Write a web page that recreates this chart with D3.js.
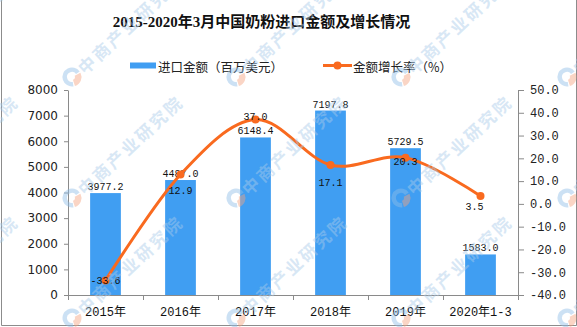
<!DOCTYPE html>
<html><head><meta charset="utf-8">
<script src="https://cdn.jsdelivr.net/npm/d3@7"></script>
<style>html,body{margin:0;padding:0;background:#fff;}svg{display:block;}</style>
</head><body>
<svg id="chart" width="577" height="327"></svg>
<script>
const titleText = "2015-2020年3月中国奶粉进口金额及增长情况";
const categories = ["2015年", "2016年", "2017年", "2018年", "2019年", "2020年1-3"];
const amounts = [3977.2, 4487.0, 6148.4, 7197.8, 5729.5, 1583.0];
const growth = [-33.6, 12.9, 37.0, 17.1, 20.3, 3.5];
const leftTicks = [0, 1000, 2000, 3000, 4000, 5000, 6000, 7000, 8000];
const rightTicks = [-40, -30, -20, -10, 0, 10, 20, 30, 40, 50];
const legendNames = ["进口金额（百万美元）", "金额增长率（%）"];
const watermarkText = "中商产业研究院";

// layout (not data)
const growthLabelDy = [0, 15, -3.5, 17.5, 3.5, 10];
const growthLabelDx = [0, 0, 0, 0, 0, -6];
const wmX = [-93, 72, 236, 401, 567];
const wmY = [77, 198, 318];

const barColor = "#409ef2", lineColor = "#f96a1f", axisColor = "#8a8a8a";
const svg = d3.select("#chart");
const L = 68, R = 518, T = 90, B = 295;

const x = d3.scaleBand().domain(categories).range([L, R]).padding(0);
const y0 = d3.scaleLinear().domain([0, 8000]).range([B, T]);
const y1 = d3.scaleLinear().domain([-40, 50]).range([B, T]);
const bw = x.bandwidth() * 0.41;

// border
svg.append("g").attr("stroke", "#8c8c8c").attr("stroke-width", 1)
  .call(g => {
    g.append("line").attr("x1", 1.5).attr("x2", 1.5).attr("y1", 0).attr("y2", 325.5);
    g.append("line").attr("x1", 576.5).attr("x2", 576.5).attr("y1", 0).attr("y2", 325.5);
    g.append("line").attr("x1", 1.5).attr("x2", 576.5).attr("y1", 325.5).attr("y2", 325.5);
  });

// title
svg.append("text").attr("x", 261.5).attr("y", 27)
  .attr("text-anchor", "middle")
  .style("font-family", "'Liberation Serif','Noto Sans CJK SC',serif")
  .style("font-weight", "bold").style("font-size", "15px").attr("fill", "#111")
  .text(titleText);

// legend
const lg = svg.append("g").style("font-family", "'Noto Sans CJK SC',sans-serif").style("font-size", "12.5px");
lg.append("rect").attr("x", 130).attr("y", 62.5).attr("width", 26).attr("height", 6).attr("fill", barColor);
lg.append("text").attr("x", 158).attr("y", 66).attr("dominant-baseline", "central").attr("fill", "#222").text(legendNames[0]);
lg.append("line").attr("x1", 323).attr("x2", 352).attr("y1", 65.5).attr("y2", 65.5).attr("stroke", lineColor).attr("stroke-width", 3);
lg.append("circle").attr("cx", 337.5).attr("cy", 65.5).attr("r", 4).attr("fill", lineColor);
lg.append("text").attr("x", 353).attr("y", 66).attr("dominant-baseline", "central").attr("fill", "#222").text(legendNames[1]);

// bars
svg.append("g").selectAll("rect").data(amounts).join("rect")
  .attr("x", (d, i) => x(categories[i]) + x.bandwidth() / 2 - bw / 2)
  .attr("width", bw)
  .attr("y", d => y0(d))
  .attr("height", d => y0(0) - y0(d))
  .attr("fill", barColor);

// left axis
const la = svg.append("g").attr("transform", `translate(${L},0)`)
  .call(d3.axisLeft(y0).tickValues(leftTicks).tickSize(4).tickSizeOuter(0).tickPadding(6).tickFormat(d3.format("d")));
la.select(".domain").attr("stroke", axisColor);
la.selectAll(".tick line").attr("stroke", axisColor);
la.selectAll(".tick text").style("font-family", "'DejaVu Sans',sans-serif").style("font-size", "12px").attr("fill", "#222");

// right axis
const ra = svg.append("g").attr("transform", `translate(${R},0)`)
  .call(d3.axisRight(y1).tickValues(rightTicks).tickSize(6).tickSizeOuter(0).tickPadding(6).tickFormat(d => d.toFixed(1)));
ra.select(".domain").attr("stroke", axisColor);
ra.selectAll(".tick line").attr("stroke", axisColor);
ra.selectAll(".tick text").style("font-family", "'Liberation Mono',monospace").style("font-size", "12px").attr("fill", "#222");

// bottom axis
const ba = svg.append("g");
ba.append("line").attr("x1", L).attr("x2", R).attr("y1", B + 0.5).attr("y2", B + 0.5).attr("stroke", axisColor);
const bounds = categories.map(c => x(c)).concat([x.range()[1]]);
ba.selectAll("line.tk").data(bounds).join("line").attr("class", "tk")
  .attr("x1", d => Math.round(d) + 0.5).attr("x2", d => Math.round(d) + 0.5)
  .attr("y1", B).attr("y2", B + 5).attr("stroke", axisColor);
ba.selectAll("text").data(categories).join("text")
  .attr("x", d => x(d) + x.bandwidth() / 2).attr("y", 316)
  .attr("text-anchor", "middle")
  .style("font-family", "'Liberation Mono','Noto Sans CJK SC',monospace").style("font-size", "12px").attr("fill", "#111")
  .text(d => d);

// bar labels
svg.append("g").selectAll("text").data(amounts).join("text")
  .attr("x", (d, i) => x(categories[i]) + x.bandwidth() / 2)
  .attr("y", d => y0(d) - 3)
  .attr("text-anchor", "middle")
  .style("font-family", "'Liberation Mono',monospace").style("font-size", "10px").attr("fill", "#111")
  .text(d => d.toFixed(1));

// line
const pts = growth.map((d, i) => [x(categories[i]) + x.bandwidth() / 2, y1(d)]);
svg.append("path").attr("d", d3.line().curve(d3.curveCardinal.tension(0))(pts))
  .attr("fill", "none").attr("stroke", lineColor).attr("stroke-width", 3);
svg.append("g").selectAll("circle").data(pts).join("circle")
  .attr("cx", d => d[0]).attr("cy", d => d[1]).attr("r", 4).attr("fill", lineColor);

// line labels
svg.append("g").selectAll("text").data(growth).join("text")
  .attr("x", (d, i) => pts[i][0] + growthLabelDx[i])
  .attr("y", (d, i) => pts[i][1] + growthLabelDy[i] + 4)
  .attr("text-anchor", "middle")
  .style("font-family", "'Liberation Mono',monospace").style("font-size", "10px").attr("fill", "#111")
  .text(d => d.toFixed(1));

// watermark
const wm = svg.append("g").attr("pointer-events", "none");
wmY.forEach(yy => wmX.forEach(xx => {
  const g = wm.append("g").attr("transform", `translate(${xx},${yy})`);
  g.append("path").attr("d", d3.arc()({innerRadius: 5, outerRadius: 9.5, startAngle: Math.PI * 0.95, endAngle: Math.PI * 2.3}))
    .attr("fill", "#8fbde6").attr("opacity", 0.45);
  g.append("path").attr("d", d3.arc()({innerRadius: 3, outerRadius: 9.5, startAngle: Math.PI * 0.35, endAngle: Math.PI * 0.9}))
    .attr("fill", "#f3a17e").attr("opacity", 0.45);
  g.append("text").attr("transform", "translate(8,-7) rotate(-43)")
    .attr("dominant-baseline", "central")
    .style("font-family", "'Noto Sans CJK SC',sans-serif").style("font-weight", "bold")
    .style("font-size", "17px").style("letter-spacing", "2.5px")
    .attr("fill", "#a9cbea").attr("opacity", 0.45)
    .text(watermarkText);
}));
</script>
</body></html>
